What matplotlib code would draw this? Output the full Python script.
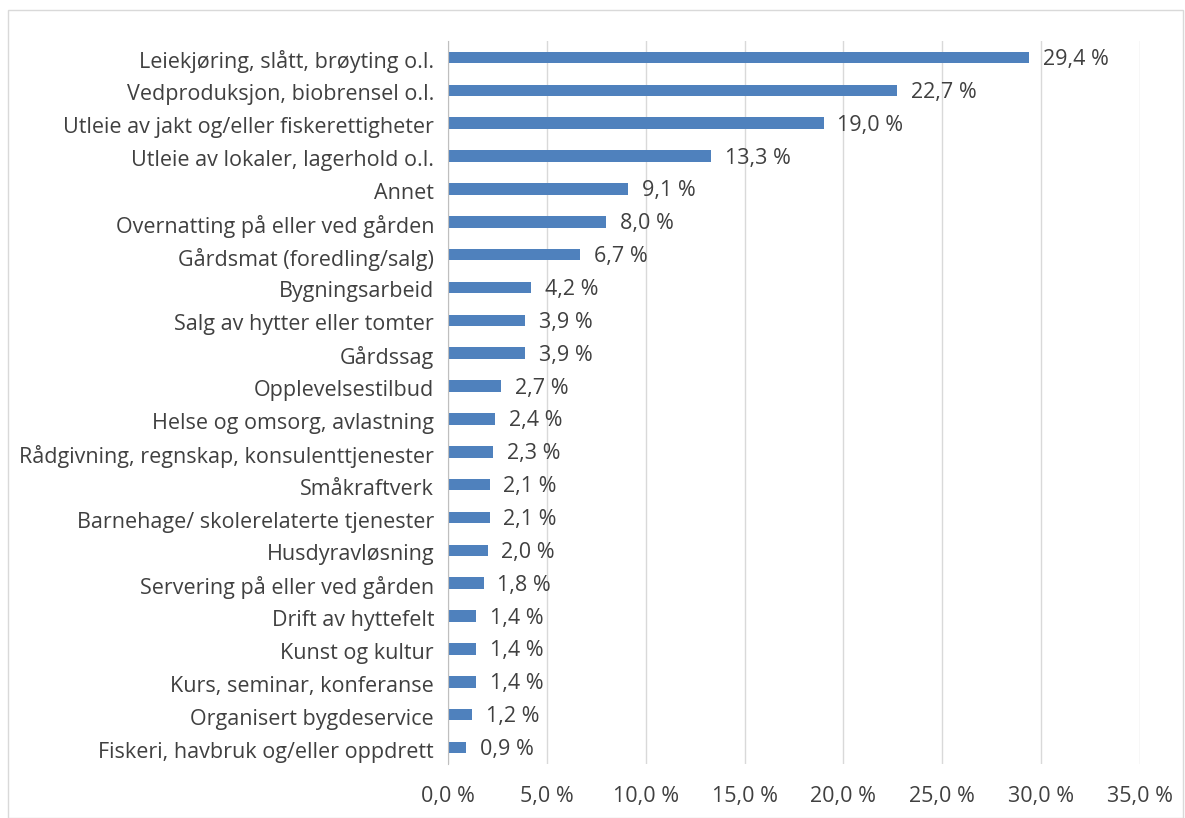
import matplotlib
matplotlib.use("Agg")
import matplotlib.pyplot as plt
import matplotlib.transforms as mtransforms
from matplotlib.patches import Rectangle

categories = [
    "Leiekjøring, slått, brøyting o.l.",
    "Vedproduksjon, biobrensel o.l.",
    "Utleie av jakt og/eller fiskerettigheter",
    "Utleie av lokaler, lagerhold o.l.",
    "Annet",
    "Overnatting på eller ved gården",
    "Gårdsmat (foredling/salg)",
    "Bygningsarbeid",
    "Salg av hytter eller tomter",
    "Gårdssag",
    "Opplevelsestilbud",
    "Helse og omsorg, avlastning",
    "Rådgivning, regnskap, konsulenttjenester",
    "Småkraftverk",
    "Barnehage/ skolerelaterte tjenester",
    "Husdyravløsning",
    "Servering på eller ved gården",
    "Drift av hyttefelt",
    "Kunst og kultur",
    "Kurs, seminar, konferanse",
    "Organisert bygdeservice",
    "Fiskeri, havbruk og/eller oppdrett",
]
values = [29.4, 22.7, 19.0, 13.3, 9.1, 8.0, 6.7, 4.2, 3.9, 3.9, 2.7, 2.4, 2.3,
          2.1, 2.1, 2.0, 1.8, 1.4, 1.4, 1.4, 1.2, 0.9]
xticks = [0, 5, 10, 15, 20, 25, 30, 35]

def fmt(v):
    return f"{v:.1f}".replace(".", ",") + " %"

plt.rcParams['font.family'] = ['Open Sans', 'DejaVu Sans']
txt = "#404040"
fs = 15.5

fig = plt.figure(figsize=(11.85, 8.18), dpi=100)
fig.patches.append(Rectangle((8/1185, 0), 1175/1185, 1 - 10/818, transform=fig.transFigure,
                             fill=False, edgecolor="#d9d9d9", linewidth=1))
ax = fig.add_axes([448/1185, 1 - 764/818, (1140 - 448)/1185, (764 - 41)/818])

n = len(categories)
ypos = list(range(n))
ax.barh(ypos, values, height=0.35, color="#4f81bd", zorder=3)
ax.set_ylim(n - 0.5, -0.5)
ax.set_xlim(0, 35)
ax.set_xticks(xticks)
ax.set_xticklabels([fmt(t) for t in xticks], fontsize=fs, color=txt)
ax.set_yticks(ypos)
ax.set_yticklabels(categories, fontsize=fs, color=txt)
ax.tick_params(axis='both', length=0)
ax.tick_params(axis='x', pad=16)
ax.tick_params(axis='y', pad=10)
ax.grid(axis='x', color="#d9d9d9", linewidth=1, zorder=0)
for s in ["top", "right", "bottom"]:
    ax.spines[s].set_visible(False)
ax.spines["left"].set_color("#bfbfbf")
ax.spines["left"].set_zorder(4)

shift = mtransforms.ScaledTranslation(0, -2/100, fig.dpi_scale_trans)
for lbl in ax.get_yticklabels():
    lbl.set_transform(lbl.get_transform() + shift)

for y, v in zip(ypos, values):
    ax.text(v + 0.7, y, fmt(v), va="center", ha="left", fontsize=fs, color=txt,
            transform=ax.transData + shift)

fig.savefig("out.png", dpi=100)
